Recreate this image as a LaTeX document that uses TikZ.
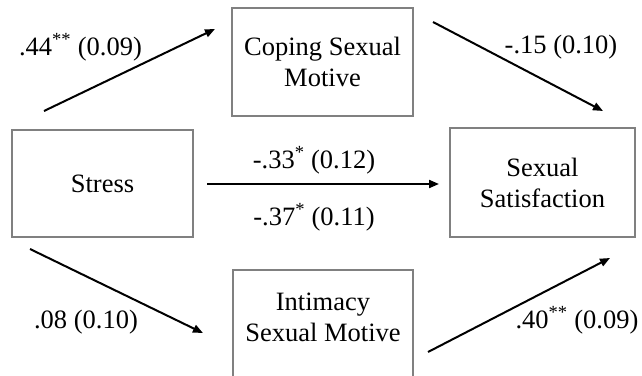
\documentclass[tikz,border=0pt]{standalone}
\usepackage{fontspec}
\setmainfont{Liberation Serif}
\usetikzlibrary{arrows.meta}
\definecolor{boxgray}{HTML}{808080}
\begin{document}
\begin{tikzpicture}[x=1pt,y=-1pt,
  box/.style={draw=boxgray, line width=1.4pt},
  boxtext/.style={align=center, inner sep=0pt, font=\fontsize{26.5}{31}\selectfont},
  lab/.style={anchor=base, inner sep=0pt, font=\fontsize{26.5}{31}\selectfont},
  conn/.style={line width=2pt, -{Triangle[length=10pt,width=8pt]}}]
\useasboundingbox (0,0) rectangle (642,375);
\clip (0,0) rectangle (642,375);
% boxes
\node[box, boxtext, minimum width=181pt, minimum height=108pt] (coping) at (322.5,62) {Coping Sexual\\Motive};
\node[box, boxtext, minimum width=181pt, minimum height=107pt] (stress) at (102.5,183.5) {Stress};
\node[box, boxtext, minimum width=185pt, minimum height=109pt] (satis) at (542.5,182.5) {Sexual\\Satisfaction};
\node[box, minimum width=180pt, minimum height=130pt] (intimbox) at (323,335) {};
\node[boxtext] (intim) at (323,317.5) {Intimacy\\Sexual Motive};
% connector end points
\coordinate (a1s) at (44,111);  \coordinate (a1e) at (215,29);
\coordinate (a2s) at (433,22);  \coordinate (a2e) at (603,111);
\coordinate (a3s) at (207,184); \coordinate (a3e) at (439,184);
\coordinate (a4s) at (30,249);  \coordinate (a4e) at (203,333);
\coordinate (a5s) at (428,352); \coordinate (a5e) at (610,258);
\draw[conn] (a1s) -- (a1e);
\draw[conn] (a2s) -- (a2e);
\draw[conn] (a3s) -- (a3e);
\draw[conn] (a4s) -- (a4e);
\draw[conn] (a5s) -- (a5e);
% labels
\node[lab] (l1) at (80.5,55) {.44\textsuperscript{**} (0.09)};
\node[lab] (l2) at (561,53) {-.15 (0.10)};
\node[lab] (l3) at (314,168) {-.33\textsuperscript{*} (0.12)};
\node[lab] (l4) at (314,225) {-.37\textsuperscript{*} (0.11)};
\node[lab] (l5) at (86,328) {.08 (0.10)};
\node[lab] (l6) at (577,328) {.40\textsuperscript{**} (0.09)};
\end{tikzpicture}
\end{document}
